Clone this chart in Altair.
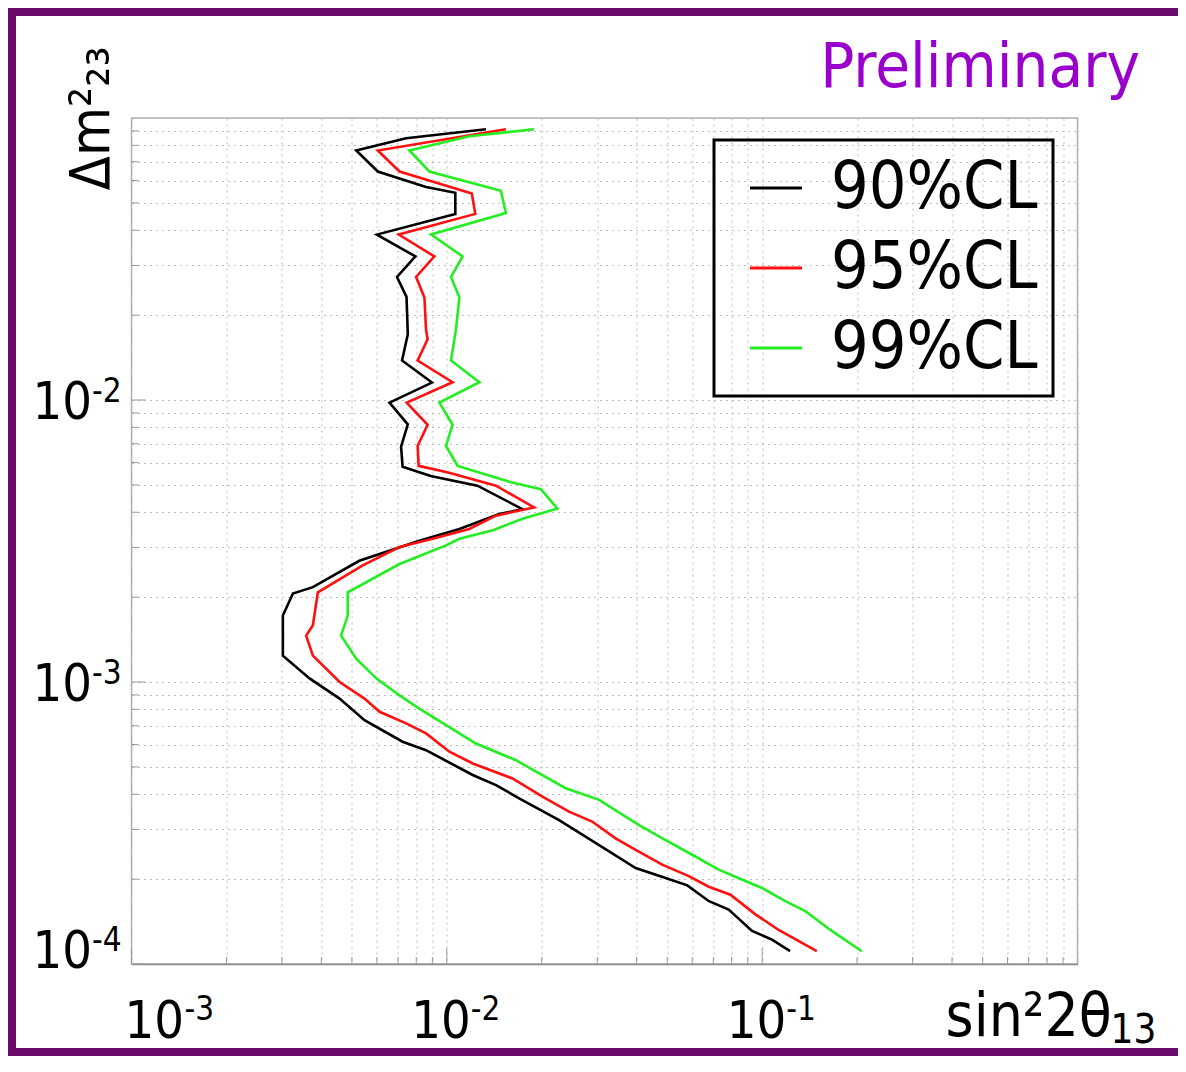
import altair as alt
import pandas as pd

# ---- data (sin^2 2theta13 , dm^2_23) ----
black_x = [0.0133, 0.00743, 0.00516, 0.00604, 0.00859, 0.01064, 0.01064, 0.00600, 0.00795, 0.00695,
           0.00745, 0.00752, 0.00721, 0.00897, 0.00658, 0.00752, 0.00716, 0.00724, 0.00889, 0.0125,
           0.01738, 0.01466, 0.01096, 0.00818, 0.00528, 0.00376, 0.00325, 0.00302, 0.00302, 0.00367,
           0.00457, 0.00548, 0.00724, 0.00859, 0.01208, 0.01432, 0.01695, 0.0227, 0.0304, 0.0397,
           0.0494, 0.0579, 0.0678, 0.0783, 0.0929, 0.1074, 0.1227]
black_y = [0.0912, 0.0848, 0.0767, 0.0646, 0.0569, 0.0543, 0.0457, 0.0386, 0.0323, 0.0273,
           0.0232, 0.0171, 0.0138, 0.01153, 0.00979, 0.00820, 0.00683, 0.00580, 0.00538, 0.00497,
           0.00410, 0.00394, 0.00349, 0.00317, 0.00269, 0.00217, 0.00206, 0.00172, 0.00124, 0.00103,
           0.000873, 0.000732, 0.000614, 0.000573, 0.000468, 0.000431, 0.000387, 0.000324, 0.000264, 0.000219,
           0.000202, 0.000190, 0.000167, 0.000156, 0.000131, 0.000122, 0.000111]

red_x = [0.01539, 0.00604, 0.00708, 0.0120, 0.01231, 0.00704, 0.00913, 0.00799, 0.00849, 0.00859,
         0.00869, 0.00808, 0.01043, 0.00746, 0.00869, 0.00808, 0.00814, 0.0101, 0.01431, 0.01891,
         0.01431, 0.01178, 0.00902, 0.00708, 0.00541, 0.00390, 0.00376, 0.00358, 0.00376, 0.00457,
         0.00548, 0.00612, 0.00743, 0.00859, 0.01019, 0.01208, 0.01615, 0.0201, 0.0244, 0.0289,
         0.0343, 0.0397, 0.0482, 0.0585, 0.0677, 0.0793, 0.0952, 0.1128, 0.149]
red_y = [0.0912, 0.0767, 0.0646, 0.0540, 0.0457, 0.0386, 0.0323, 0.0273, 0.0231, 0.0178,
         0.0164, 0.0138, 0.01156, 0.00979, 0.00817, 0.00687, 0.00584, 0.00553, 0.00497, 0.00416,
         0.00389, 0.00349, 0.00322, 0.00301, 0.00259, 0.00208, 0.00159, 0.00146, 0.00124, 0.00100,
         0.000873, 0.000784, 0.000713, 0.000657, 0.000566, 0.000514, 0.000455, 0.000392, 0.000347, 0.000320,
         0.000279, 0.000254, 0.000225, 0.000205, 0.000188, 0.000176, 0.000150, 0.000132, 0.000111]

green_x = [0.01891, 0.0118, 0.00761, 0.00880, 0.01484, 0.01539, 0.00891, 0.01122, 0.01031, 0.01096,
           0.01069, 0.01031, 0.01268, 0.00947, 0.01043, 0.00994, 0.01082, 0.01596, 0.01987, 0.02242,
           0.01738, 0.0140, 0.01096, 0.00994, 0.00708, 0.00485, 0.00485, 0.00462, 0.00516, 0.00597,
           0.00708, 0.00818, 0.00994, 0.01237, 0.01656, 0.01962, 0.02383, 0.0304, 0.0407, 0.0494,
           0.0600, 0.0728, 0.0884, 0.0999, 0.1184, 0.1370, 0.1663, 0.2069]
green_y = [0.0912, 0.0862, 0.0767, 0.0646, 0.0552, 0.0460, 0.0386, 0.0323, 0.0273, 0.0231,
           0.0178, 0.0138, 0.01156, 0.00979, 0.00817, 0.00687, 0.00584, 0.00511, 0.00483, 0.00412,
           0.00379, 0.00345, 0.00322, 0.00305, 0.00262, 0.00208, 0.00172, 0.00146, 0.00121, 0.00103,
           0.000897, 0.000805, 0.000703, 0.000605, 0.000528, 0.000474, 0.000420, 0.000382, 0.000311, 0.000275,
           0.000244, 0.000216, 0.000197, 0.000186, 0.000167, 0.000154, 0.000131, 0.000111]

cl_labels = ["90%CL", "95%CL", "99%CL"]
cl_colors = ["#000000", "#ff0f0f", "#22ee22"]

x_decades = [1e-3, 1e-2, 1e-1]
x_exps = ["-3", "-2", "-1"]
y_decades = [1e-4, 1e-3, 1e-2]
y_exps = ["-4", "-3", "-2"]
x_minor = [m * d for d in x_decades for m in range(2, 10)]
y_minor = [m * d for d in y_decades for m in range(2, 10)]
x_grid = sorted(x_decades + x_minor + [1.0])
y_grid = sorted(y_decades + y_minor + [0.1])

# ---- build table ----
rows = []
for lab, xs, ys in [(cl_labels[0], black_x, black_y), (cl_labels[1], red_x, red_y), (cl_labels[2], green_x, green_y)]:
    for i, (a, b) in enumerate(zip(xs, ys)):
        rows.append({"x": a, "y": b, "CL": lab, "i": i})
df = pd.DataFrame(rows)

W, H = 946, 846
FONT = "DejaVu Sans Condensed, Open Sans, sans-serif"
xscale = alt.Scale(type="log", domain=[1e-3, 1.0], nice=False)
yscale = alt.Scale(type="log", domain=[1e-4, 1e-1], nice=False)

xaxis = alt.Axis(values=x_grid, grid=True, gridColor="#bdbdbd", gridDash=[2, 4], gridWidth=1,
                 labels=False, ticks=False, domain=True, domainColor="#8a8a8a", domainWidth=1.5,
                 title="sin²2θ", titleFont=FONT, titleFontSize=60, titleFontWeight="normal",
                 titleColor="black", titleX=813.5, titleY=71, titleAlign="left",
                 titleBaseline="alphabetic", titleAngle=0)
yaxis = alt.Axis(values=y_grid, grid=True, gridColor="#bdbdbd", gridDash=[2, 4], gridWidth=1,
                 labels=False, ticks=False, domain=False,
                 title="Δm²₂₃", titleFont=FONT, titleFontSize=56, titleFontWeight="normal",
                 titleColor="black", titleAngle=270, titleX=-23.5, titleY=72, titleAlign="left",
                 titleBaseline="alphabetic")

legend = alt.Legend(orient="none", legendX=582.5, legendY=22, title=None,
                    strokeColor="black", padding=15,
                    symbolType="stroke", symbolSize=2704, symbolStrokeWidth=3, symbolOffset=14,
                    labelFont=FONT, labelFontSize=66, labelOffset=22, labelLimit=500,
                    rowPadding=14, labelColor="black")

lines = alt.Chart(df).mark_line(strokeWidth=2.6, clip=True).encode(
    x=alt.X("x:Q", scale=xscale, axis=xaxis),
    y=alt.Y("y:Q", scale=yscale, axis=yaxis),
    color=alt.Color("CL:N", scale=alt.Scale(domain=cl_labels, range=cl_colors), legend=legend),
    order="i:Q",
)

one = pd.DataFrame({"k": [0]})
frame = alt.Chart(one).mark_rect(
    fill="white", fillOpacity=0, stroke="#6b0b6b", strokeWidth=8, clip=False
).encode(x=alt.value(-119.5), x2=alt.value(W + 140), y=alt.value(-106), y2=alt.value(H + 88))

prelim = alt.Chart(one).mark_text(
    text="Preliminary", font=FONT, fontSize=63, color="#9900cc", align="right", baseline="alphabetic"
).encode(x=alt.value(W + 62.5), y=alt.value(-31))

xsub = alt.Chart(one).mark_text(
    text="13", font=FONT, fontSize=40, color="black", align="left", baseline="alphabetic"
).encode(x=alt.value(W + 33), y=alt.value(H + 79))

# inward tick marks along the bottom and left edges
x_minor_df = pd.DataFrame({"x": x_minor})
x_major_df = pd.DataFrame({"x": x_decades})
y_minor_df = pd.DataFrame({"y": y_minor})
y_major_df = pd.DataFrame({"y": y_decades})
tx_minor = alt.Chart(x_minor_df).mark_rule(color="#9a9a9a", strokeWidth=1).encode(
    x=alt.X("x:Q", scale=xscale), y=alt.value(H), y2=alt.value(H - 7))
tx_major = alt.Chart(x_major_df).mark_rule(color="#9a9a9a", strokeWidth=1).encode(
    x=alt.X("x:Q", scale=xscale), y=alt.value(H), y2=alt.value(H - 16))
ty_minor = alt.Chart(y_minor_df).mark_rule(color="#9a9a9a", strokeWidth=1).encode(
    y=alt.Y("y:Q", scale=yscale), x=alt.value(0), x2=alt.value(7))
ty_major = alt.Chart(y_major_df).mark_rule(color="#9a9a9a", strokeWidth=1).encode(
    y=alt.Y("y:Q", scale=yscale), x=alt.value(0), x2=alt.value(14))

xlab = pd.DataFrame({"x": x_decades, "e": x_exps})
ylab = pd.DataFrame({"y": y_decades, "e": y_exps})

xb_first = alt.Chart(xlab).transform_filter("datum.x < 0.002").mark_text(
    text="10", font=FONT, fontSize=52, align="left", baseline="top", dx=-7, color="black"
).encode(x=alt.X("x:Q", scale=xscale), y=alt.value(H + 33))
xb_rest = alt.Chart(xlab).transform_filter("datum.x > 0.002").mark_text(
    text="10", font=FONT, fontSize=52, align="right", baseline="top", dx=24, color="black"
).encode(x=alt.X("x:Q", scale=xscale), y=alt.value(H + 33))
xe_first = alt.Chart(xlab).transform_filter("datum.x < 0.002").mark_text(
    font=FONT, fontSize=33, align="left", baseline="top", dx=53, color="black"
).encode(x=alt.X("x:Q", scale=xscale), y=alt.value(H + 30), text="e:N")
xe_rest = alt.Chart(xlab).transform_filter("datum.x > 0.002").mark_text(
    font=FONT, fontSize=33, align="left", baseline="top", dx=24, color="black"
).encode(x=alt.X("x:Q", scale=xscale), y=alt.value(H + 30), text="e:N")

yb_bottom = alt.Chart(ylab).transform_filter("datum.y < 0.0002").mark_text(
    text="10", font=FONT, fontSize=52, align="right", baseline="middle", dy=-12.5, color="black"
).encode(y=alt.Y("y:Q", scale=yscale), x=alt.value(-39.5))
yb_rest = alt.Chart(ylab).transform_filter("datum.y > 0.0002").mark_text(
    text="10", font=FONT, fontSize=52, align="right", baseline="middle", dy=3, color="black"
).encode(y=alt.Y("y:Q", scale=yscale), x=alt.value(-39.5))
ye_bottom = alt.Chart(ylab).transform_filter("datum.y < 0.0002").mark_text(
    font=FONT, fontSize=33, align="left", baseline="middle", dy=-23, color="black"
).encode(y=alt.Y("y:Q", scale=yscale), x=alt.value(-39.5), text="e:N")
ye_rest = alt.Chart(ylab).transform_filter("datum.y > 0.0002").mark_text(
    font=FONT, fontSize=33, align="left", baseline="middle", dy=-8, color="black"
).encode(y=alt.Y("y:Q", scale=yscale), x=alt.value(-39.5), text="e:N")

base = alt.layer(
    frame, tx_minor, tx_major, ty_minor, ty_major, lines, prelim, xsub,
    xb_first, xb_rest, xe_first, xe_rest, yb_bottom, yb_rest, ye_bottom, ye_rest,
).properties(
    width=W, height=H,
    padding={"left": 123.5, "top": 110, "right": 100.5, "bottom": 92},
    autosize=alt.AutoSizeParams(type="none"),
).configure(background="white").configure_view(stroke="#b0b0b0", strokeWidth=1.5)

try:
    chart = base.configure_legend(strokeWidth=3)
    chart.to_dict()
except Exception:
    chart = base

chart.save("out.html", embed_options={"renderer": "svg", "actions": False})
